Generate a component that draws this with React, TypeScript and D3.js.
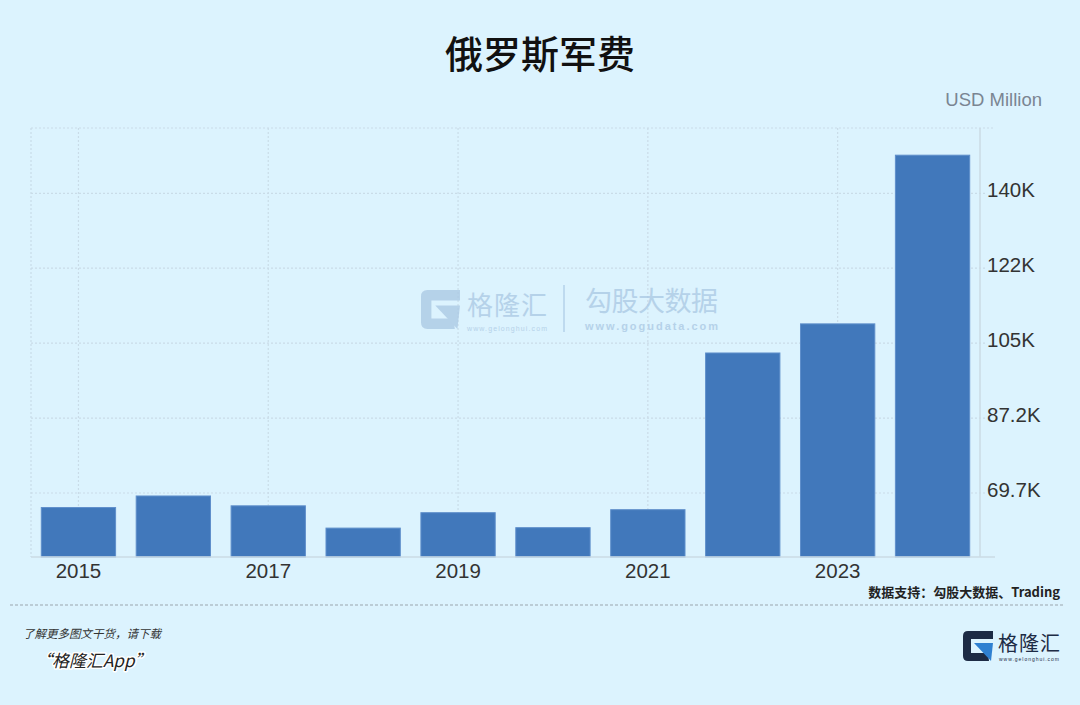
import React from "react";
import * as d3 from "d3";

const years = ["2015", "2016", "2017", "2018", "2019", "2020", "2021", "2022", "2023", "2024"];
const spending = [66.3, 69.0, 66.7, 61.5, 65.1, 61.6, 65.8, 102.4, 109.2, 148.6];
const tickValues = [69.7, 87.2, 104.7, 122.2, 139.7];
const tickLabels = ["69.7K", "87.2K", "105K", "122K", "140K"];
const labeledYears = ["2015", "2017", "2019", "2021", "2023"];
const yDomain = [54.75, 154.95];

const W = 1080;
const H = 705;
const plotLeft = 31;
const plotRight = 980;
const plotTop = 128;
const plotBottom = 557;

const CJK = "'Noto Sans CJK SC', 'Noto Sans', sans-serif";
const LAT = "'Liberation Sans', Arial, sans-serif";

function GLogo({ x, y, s, dark, blue, opacity = 1 }: any) {
  return (
    <g transform={`translate(${x},${y}) scale(${s})`} opacity={opacity}>
      <path
        d="M30,0 H5 Q0,0 0,5 V25 Q0,30 5,30 H26 L25,22 H8 V8 H30 Z"
        fill={dark}
      />
      <path d="M11,12 H30 L28,30 Z" fill={blue} />
    </g>
  );
}

export default function App() {
  const x = d3.scaleBand<string>().domain(years).range([plotLeft, plotRight]).paddingInner(0.217).paddingOuter(0.1085);
  const y = d3.scaleLinear().domain(yDomain).range([plotBottom, plotTop]);
  const grid = "#c9dce8";

  return (
    <svg width={W} height={H} style={{ position: "absolute", left: 0, top: 0, display: "block" }}>
      <rect x={0} y={0} width={W} height={H} fill="#dcf3fe" />

      {/* title */}
      <text x={540} y={68} textAnchor="middle" fontFamily={CJK} fontWeight={500} fontSize={38} fill="#111">
        俄罗斯军费
      </text>
      <text x={1042} y={106} textAnchor="end" fontFamily={LAT} fontSize={18.5} fill="#7a8592">
        USD Million
      </text>

      {/* grid */}
      <line x1={plotLeft} x2={995} y1={plotTop} y2={plotTop} stroke={grid} strokeWidth={1.2} strokeDasharray="2,2" />
      {tickValues.map((t, i) => (
        <line key={"h" + i} x1={plotLeft} x2={985} y1={y(t)} y2={y(t)} stroke={grid} strokeWidth={1.2} strokeDasharray="2,2" />
      ))}
      <line x1={plotLeft} x2={plotLeft} y1={plotTop} y2={plotBottom} stroke={grid} strokeWidth={1.2} strokeDasharray="2,2" />
      {labeledYears.map((yr) => (
        <line
          key={"v" + yr}
          x1={(x(yr) as number) + x.bandwidth() / 2}
          x2={(x(yr) as number) + x.bandwidth() / 2}
          y1={plotTop}
          y2={plotBottom}
          stroke={grid}
          strokeWidth={1.2}
          strokeDasharray="2,2"
        />
      ))}

      {/* watermark */}
      <g opacity={0.75}>
        <GLogo x={421} y={290} s={1.3} dark="#a9c7e3" blue="#a9c7e3" />
        <text x={467} y={315} fontFamily={CJK} fontSize={26} fill="#a9c7e3" textLength={80}>
          格隆汇
        </text>
        <text x={467} y={331} fontFamily={LAT} fontSize={7} fill="#a9c7e3" textLength={80}>
          www.gelonghui.com
        </text>
        <line x1={564} x2={564} y1={285} y2={332} stroke="#a9c7e3" strokeWidth={1.5} />
        <text x={585} y={311} fontFamily={CJK} fontSize={27} fill="#a9c7e3" textLength={133}>
          勾股大数据
        </text>
        <text x={585} y={330} fontFamily={LAT} fontSize={11} fill="#a9c7e3" textLength={133} fontWeight={700}>
          www.gogudata.com
        </text>
      </g>

      {/* bars */}
      {years.map((yr, i) => (
        <rect
          key={yr}
          x={x(yr)}
          y={y(spending[i])}
          width={x.bandwidth()}
          height={plotBottom - y(spending[i])}
          fill="#4178bb"
          stroke="#5f8fcb"
          strokeWidth={1}
        />
      ))}

      {/* axes lines */}
      <line x1={plotRight} x2={plotRight} y1={plotTop} y2={plotBottom} stroke="#cbdbe5" strokeWidth={1.5} />
      <line x1={plotLeft} x2={995} y1={plotBottom} y2={plotBottom} stroke="#cbdbe5" strokeWidth={1.5} />

      {/* y tick labels */}
      {tickValues.map((t, i) => (
        <text key={"t" + i} x={987} y={y(t) + 4} fontFamily={LAT} fontSize={20.5} fill="#333">
          {tickLabels[i]}
        </text>
      ))}

      {/* x labels */}
      {labeledYears.map((yr) => (
        <text
          key={"l" + yr}
          x={(x(yr) as number) + x.bandwidth() / 2}
          y={578}
          textAnchor="middle"
          fontFamily={LAT}
          fontSize={20.5}
          fill="#333"
        >
          {yr}
        </text>
      ))}

      {/* source */}
      <text x={1060} y={597} textAnchor="end" fontFamily={CJK} fontWeight={700} fontSize={13} fill="#222">
        数据支持：勾股大数据、Trading
      </text>
      <line x1={10} x2={1065} y1={605} y2={605} stroke="#9aa5ad" strokeWidth={1} strokeDasharray="3,2" />

      {/* footer left */}
      <text x={23} y={638} fontFamily={CJK} fontSize={11.5} fontStyle="italic" fill="#333">
        了解更多图文干货，请下载
      </text>
      <text
        x={35}
        y={667}
        fontFamily={CJK}
        fontSize={17}
        fontStyle="italic"
        fill="#222"
        stroke="#ffffff"
        strokeWidth={3}
        paintOrder="stroke"
        strokeLinejoin="round"
      >
        “格隆汇App”
      </text>

      {/* footer logo */}
      <GLogo x={963} y={631} s={1.0} dark="#1d2b45" blue="#2f80d1" />
      <text x={998} y={651} fontFamily={CJK} fontSize={20} fill="#1d2b45" textLength={62}>
        格隆汇
      </text>
      <text x={999} y={661} fontFamily={LAT} fontSize={5} fill="#1d2b45" textLength={60}>
        www.gelonghui.com
      </text>
    </svg>
  );
}
